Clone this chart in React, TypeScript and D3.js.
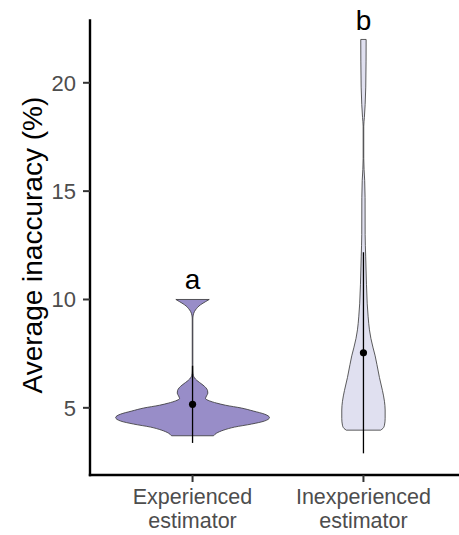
import React from "react";
import * as d3 from "d3";

// ---- data ----
const categories = ["Experienced estimator", "Inexperienced estimator"];
const categoryLines = [["Experienced", "estimator"], ["Inexperienced", "estimator"]];
const fills = ["#988DC8", "#E0E0F0"];

// violin profiles: value (%) and relative density (max = 1)
const expValues = [3.71, 3.83, 3.97, 4.11, 4.25, 4.39, 4.55, 4.71, 4.85, 4.99, 5.12, 5.22, 5.32, 5.43, 5.55, 5.68, 5.8, 5.92, 6.05, 6.17, 6.28, 6.38, 6.5, 6.7, 7.0, 9.1, 9.28, 9.45, 9.58, 9.7, 9.8, 9.9, 10.0];
const expDensity = [0.273, 0.312, 0.403, 0.545, 0.766, 0.935, 1.0, 0.935, 0.792, 0.636, 0.429, 0.312, 0.221, 0.169, 0.182, 0.199, 0.195, 0.175, 0.136, 0.091, 0.052, 0.026, 0.01, 0.005, 0.004, 0.004, 0.009, 0.026, 0.052, 0.084, 0.123, 0.169, 0.217];

const inexpValues = [3.97, 4.05, 4.2, 4.5, 4.9, 5.3, 5.8, 6.4, 7.0, 7.4, 7.8, 8.2, 8.6, 9.2, 9.8, 10.7, 12.0, 13.0, 14.7, 15.5, 16.0, 16.5, 18.0, 18.4, 19.0, 19.8, 21.0, 22.0];
const inexpDensity = [0.223, 0.253, 0.273, 0.282, 0.282, 0.273, 0.247, 0.208, 0.175, 0.152, 0.123, 0.097, 0.078, 0.061, 0.049, 0.039, 0.029, 0.022, 0.021, 0.016, 0.008, 0.004, 0.004, 0.012, 0.022, 0.03, 0.034, 0.035];

// mean and mean ± sd
const means = [5.16, 7.54];
const lowers = [3.38, 2.9];
const uppers = [6.94, 12.18];

// significance letters
const letters = ["a", "b"];
const letterY = [10.48, 22.43];

const yTicks = [5, 10, 15, 20];
const yDomain = [1.9, 22.93];

const W = 459;
const H = 535;
const FONT = "'Liberation Sans', Arial, Helvetica, sans-serif";

export default function App() {
  const panelLeft = 90;
  const panelRight = 466;
  const panelTop = 19.3;
  const panelBottom = 475;

  const x = d3.scalePoint<string>().domain(categories).range([panelLeft, panelRight]).padding(0.6);
  const y = d3.scaleLinear().domain(yDomain).range([panelBottom, panelTop]);
  const step = x.step();
  const w = d3.scaleLinear().domain([0, 1]).range([0, 0.45 * step]);

  const profiles = [
    expValues.map((v, i) => ({ v, d: expDensity[i] })),
    inexpValues.map((v, i) => ({ v, d: inexpDensity[i] })),
  ];

  return (
    <svg
      width={W}
      height={H}
      style={{ position: "absolute", left: 0, top: 0, display: "block", background: "#fff" }}
      fontFamily={FONT}
    >
      {categories.map((c, i) => {
        const cx = x(c)!;
        const area = d3
          .area<{ v: number; d: number }>()
          .y((p) => y(p.v))
          .x0((p) => cx - w(p.d))
          .x1((p) => cx + w(p.d))
          .curve(d3.curveMonotoneY);
        return (
          <path key={"v" + i} d={area(profiles[i]) || ""} fill={fills[i]} stroke="#333" strokeWidth={0.8} />
        );
      })}
      {categories.map((c, i) => {
        const cx = x(c)!;
        return (
          <g key={"p" + i}>
            <line x1={cx} x2={cx} y1={y(lowers[i])} y2={y(uppers[i])} stroke="#000" strokeWidth={1.3} />
            <circle cx={cx} cy={y(means[i])} r={3.6} fill="#000" />
            <text x={cx} y={y(letterY[i])} textAnchor="middle" fontSize={28} fill="#000">
              {letters[i]}
            </text>
          </g>
        );
      })}
      {/* y axis */}
      <line x1={panelLeft} x2={panelLeft} y1={panelTop} y2={panelBottom + 1.2} stroke="#000" strokeWidth={2.4} />
      {yTicks.map((t) => (
        <g key={"yt" + t}>
          <line x1={panelLeft - 7} x2={panelLeft} y1={y(t)} y2={y(t)} stroke="#333" strokeWidth={2} />
          <text x={panelLeft - 14} y={y(t)} dy="0.36em" textAnchor="end" fontSize={22} fill="#4D4D4D">
            {t}
          </text>
        </g>
      ))}
      {/* x axis */}
      <line x1={panelLeft - 1.2} x2={panelRight} y1={panelBottom} y2={panelBottom} stroke="#000" strokeWidth={2.4} />
      {categories.map((c, i) => {
        const cx = x(c)!;
        return (
          <g key={"xt" + i}>
            <line x1={cx} x2={cx} y1={panelBottom} y2={panelBottom + 7} stroke="#333" strokeWidth={2} />
            {categoryLines[i].map((ln, j) => (
              <text key={j} x={cx} y={504 + j * 24} textAnchor="middle" fontSize={21.5} fill="#4D4D4D">
                {ln}
              </text>
            ))}
          </g>
        );
      })}
      <text
        transform={`translate(41.7, ${(panelTop + panelBottom) / 2 - 2}) rotate(-90)`}
        textAnchor="middle"
        fontSize={28}
        fill="#000"
      >
        Average inaccuracy (%)
      </text>
    </svg>
  );
}
